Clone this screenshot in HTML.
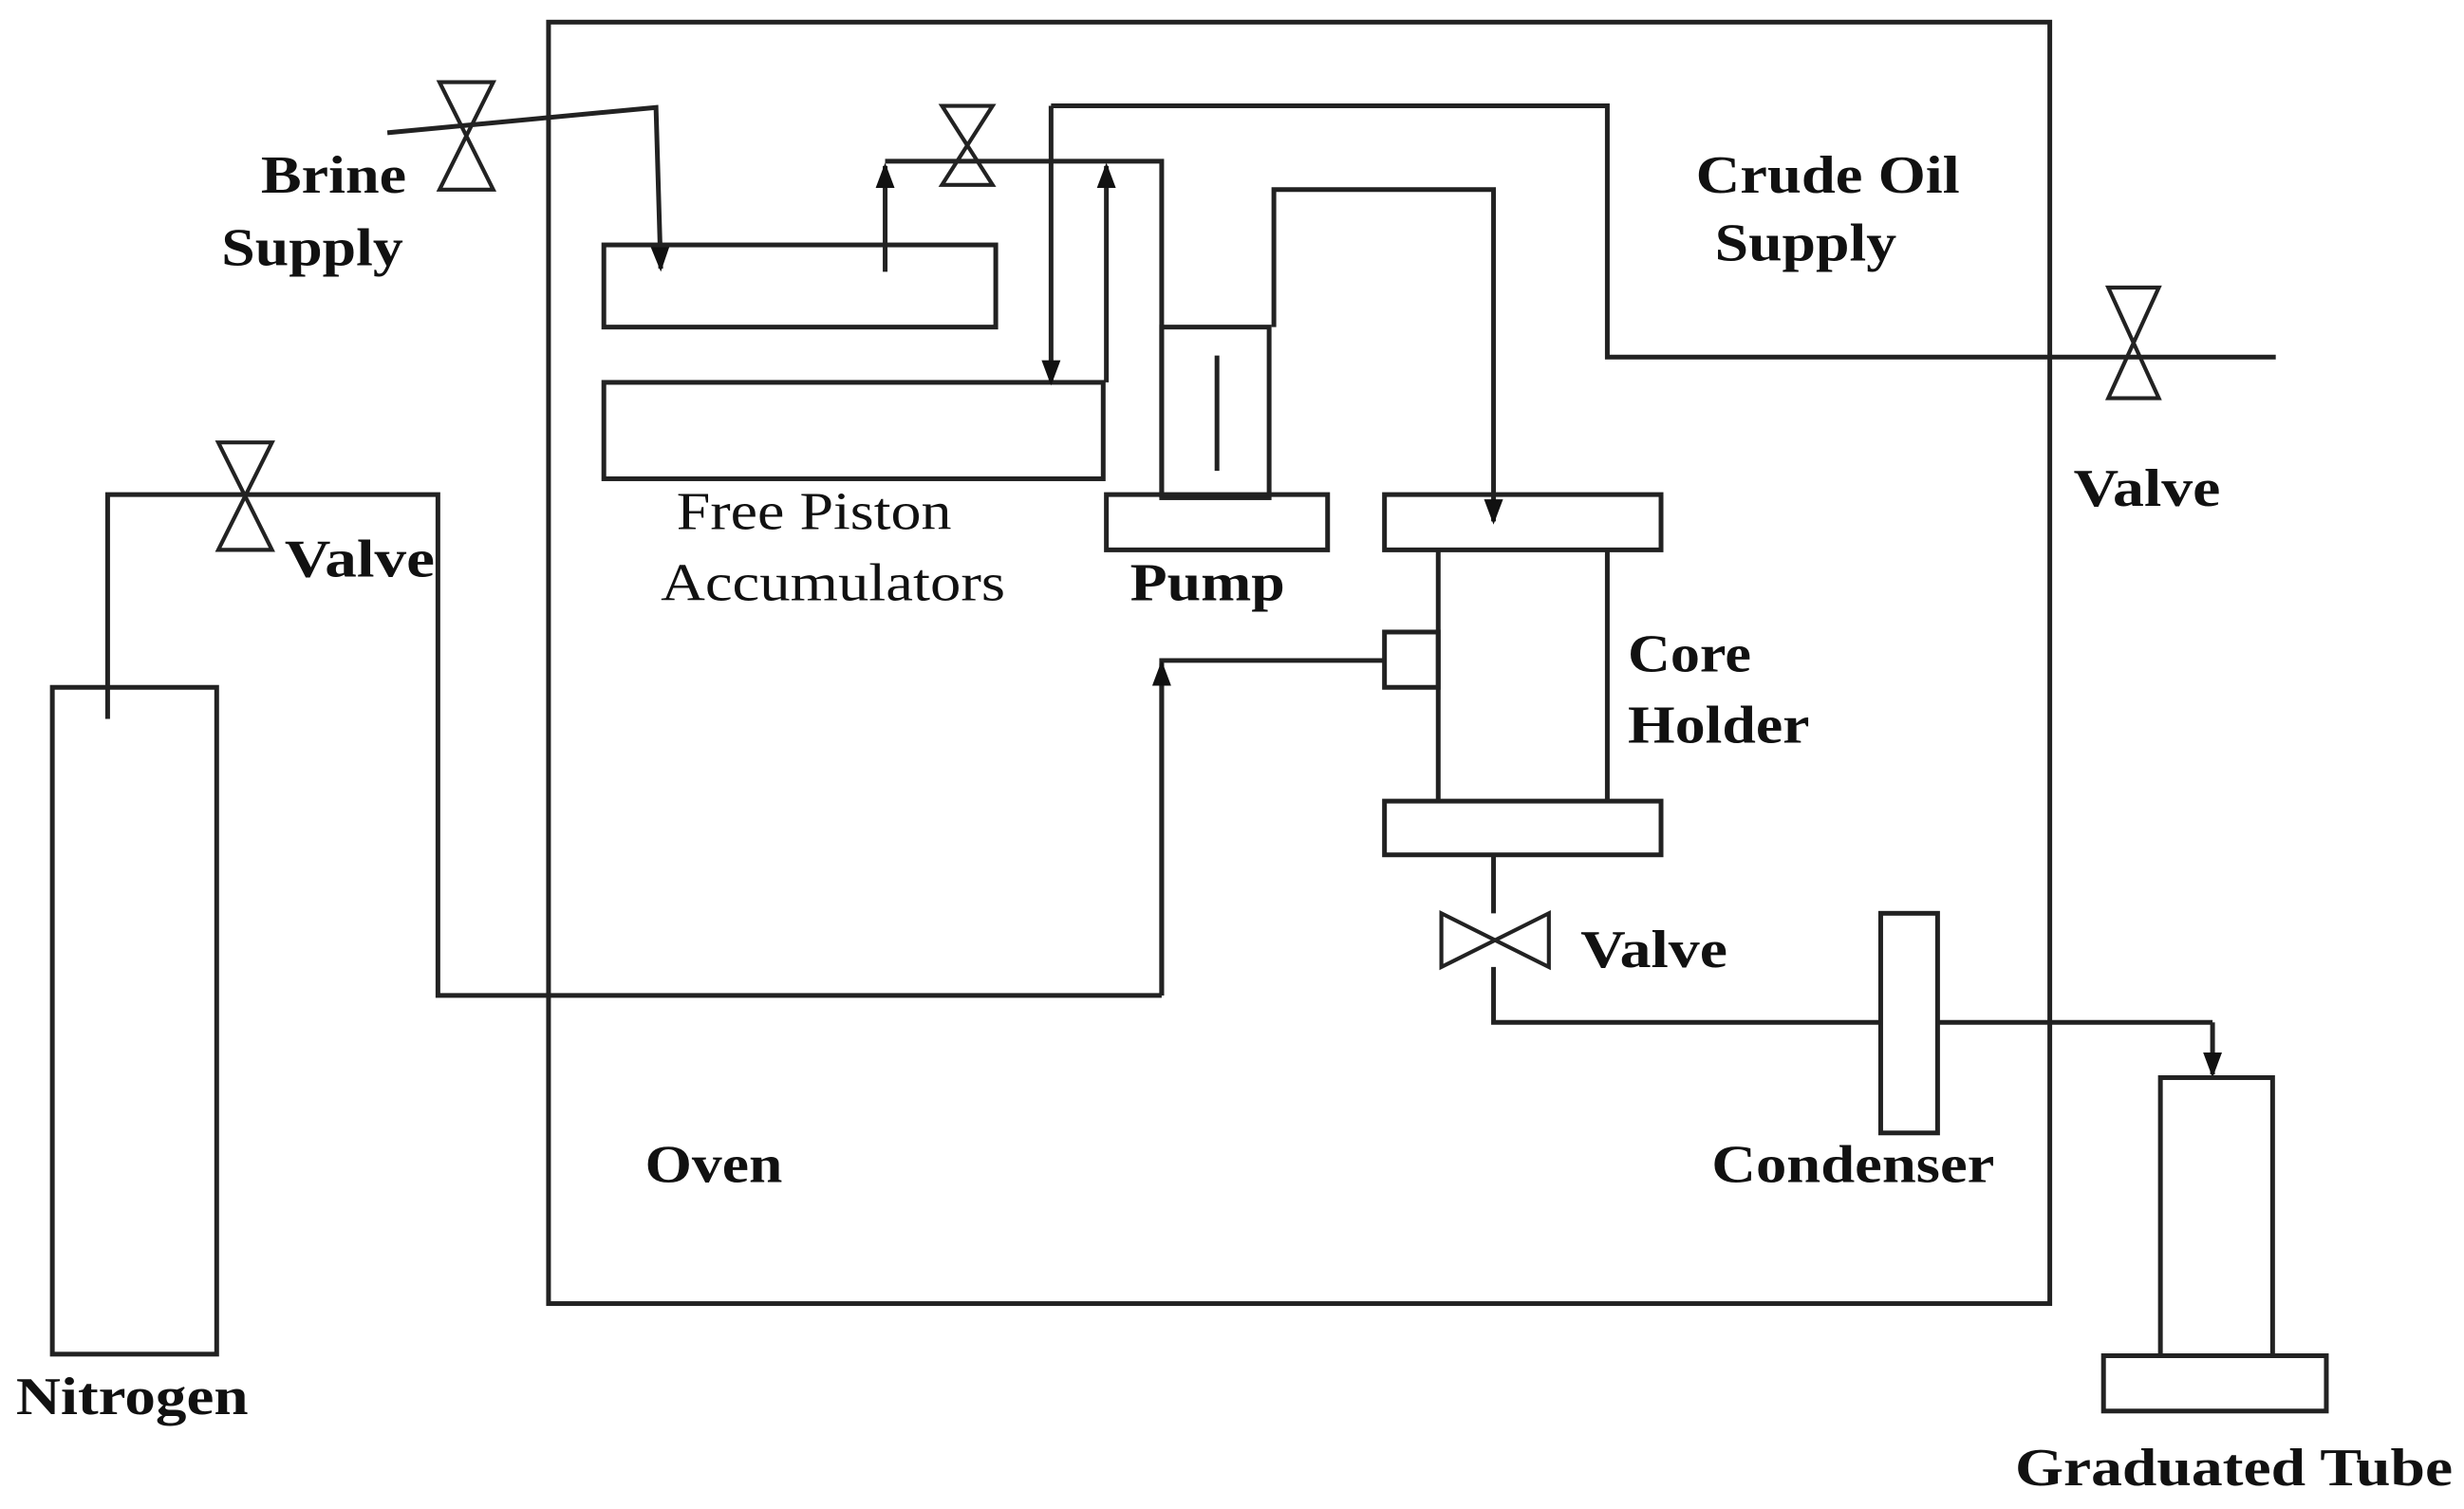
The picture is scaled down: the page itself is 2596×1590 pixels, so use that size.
<!DOCTYPE html>
<html><head><meta charset="utf-8"><style>html,body{margin:0;padding:0;background:#fff}svg{display:block}</style></head>
<body>
<svg width="2596" height="1590" viewBox="0 0 1559 955" xmlns="http://www.w3.org/2000/svg">
<defs>
<marker id="b" markerWidth="16" markerHeight="16" refX="14" refY="8" orient="auto" markerUnits="userSpaceOnUse" viewBox="0 0 16 16"><path d="M0,2 L16,8 L0,14 z" fill="#111"/></marker></defs>
<g fill="none" stroke="#222" stroke-width="3">
<rect x="347" y="14" width="950" height="811"/>
<path d="M245,84 L415,68 L418,170" marker-end="url(#b)"/>
<path d="M278,52 L312,52 L278,120 L312,120 Z" stroke-width="2.5"/>
<rect x="382" y="155" width="248" height="52"/>
<rect x="382" y="242" width="316" height="61"/>
<path d="M560,172 L560,105" marker-end="url(#b)"/>
<path d="M560,102 L735,102 L735,315"/>
<path d="M596,67 L628,67 L596,117 L628,117 Z" stroke-width="2.5"/>
<path d="M700,242 L700,105" marker-end="url(#b)"/>
<path d="M665,67 L1017,67 L1017,226 L1440,226"/>
<path d="M665,67 L665,242" marker-end="url(#b)"/>
<path d="M1334,182 L1366,182 L1334,252 L1366,252 Z" stroke-width="2.5"/>
<rect x="735" y="207" width="68" height="108"/>
<line x1="770" y1="225" x2="770" y2="298"/>
<rect x="700" y="313" width="140" height="35"/>
<path d="M806,207 L806,120 L945,120 L945,330" marker-end="url(#b)"/>
<rect x="876" y="313" width="175" height="35"/>
<path d="M910,348 L910,507 M1017,348 L1017,507"/>
<rect x="876" y="507" width="175" height="34"/>
<rect x="876" y="400" width="34" height="35"/>
<path d="M876,418 L735,418 L735,630"/>
<path d="M735,630 L735,420" marker-end="url(#b)"/>
<path d="M735,630 L277,630 L277,313 L68,313 L68,455"/>
<path d="M138,280 L172,280 L138,348 L172,348 Z" stroke-width="2.5"/>
<rect x="33" y="435" width="104" height="422"/>
<path d="M945,541 L945,578 M945,612 L945,647 L1400,647"/>
<path d="M1400,647 L1400,680" marker-end="url(#b)"/>
<path d="M912,578 L912,612 L980,578 L980,612 Z" stroke-width="2.5"/>
<rect x="1190" y="578" width="36" height="139" fill="#fff"/>
<rect x="1367" y="682" width="71" height="176"/>
<rect x="1331" y="858" width="141" height="35"/>
</g>
<g font-family="'Liberation Serif',serif" font-size="34" font-weight="bold" fill="#111" lengthAdjust="spacingAndGlyphs">
<text x="165" y="122" textLength="92" lengthAdjust="spacingAndGlyphs">Brine</text>
<text x="140" y="168" textLength="115" lengthAdjust="spacingAndGlyphs">Supply</text>
<text x="1073" y="122" textLength="167" lengthAdjust="spacingAndGlyphs">Crude Oil</text>
<text x="1085" y="165" textLength="115" lengthAdjust="spacingAndGlyphs">Supply</text>
<text x="1312" y="320" textLength="93" lengthAdjust="spacingAndGlyphs">Valve</text>
<text x="180" y="365" textLength="95" lengthAdjust="spacingAndGlyphs">Valve</text>
<text x="715" y="380" textLength="98" lengthAdjust="spacingAndGlyphs">Pump</text>
<text x="1030" y="425" textLength="78" lengthAdjust="spacingAndGlyphs">Core</text>
<text x="1030" y="470" textLength="115" lengthAdjust="spacingAndGlyphs">Holder</text>
<text x="1000" y="612" textLength="93" lengthAdjust="spacingAndGlyphs">Valve</text>
<text x="408" y="748" textLength="87" lengthAdjust="spacingAndGlyphs">Oven</text>
<text x="1083" y="748" textLength="179" lengthAdjust="spacingAndGlyphs">Condenser</text>
<text x="10" y="895" textLength="147" lengthAdjust="spacingAndGlyphs">Nitrogen</text>
<text x="1275" y="940" textLength="277" lengthAdjust="spacingAndGlyphs">Graduated Tube</text>
<text x="428" y="335" font-weight="normal" textLength="174" lengthAdjust="spacingAndGlyphs">Free Piston</text>
<text x="418" y="380" font-weight="normal" textLength="218" lengthAdjust="spacingAndGlyphs">Accumulators</text>
</g>
</svg>
</body></html>
